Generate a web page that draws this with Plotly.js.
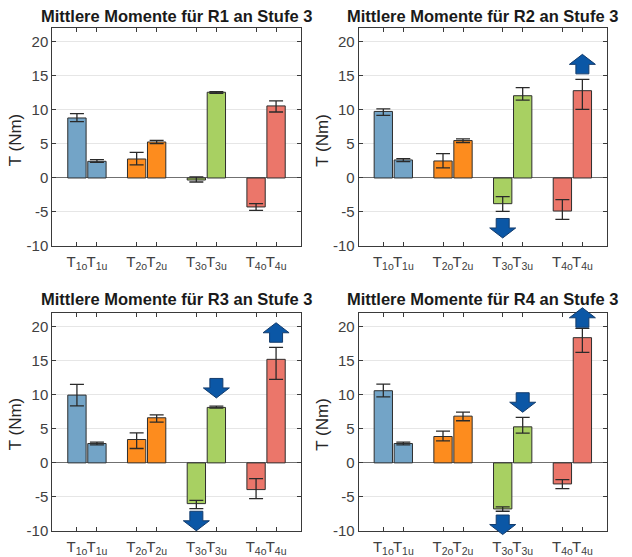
<!DOCTYPE html>
<html>
<head>
<meta charset="utf-8">
<script src="https://cdn.plot.ly/plotly-3.0.1.min.js"></script>
<style>html,body{margin:0;padding:0;background:#fff;}#chart{width:632px;height:557px;}</style>
</head>
<body>
<div id="chart"></div>
<script>
// ---- data ----
const tickLabels = ['T<sub>1o</sub>','T<sub>1u</sub>','T<sub>2o</sub>','T<sub>2u</sub>','T<sub>3o</sub>','T<sub>3u</sub>','T<sub>4o</sub>','T<sub>4u</sub>'];
const groupOf = [1,1,2,2,3,3,4,4];
const sideOf = [-1,1,-1,1,-1,1,-1,1];
const titles = ['Mittlere Momente für R1 an Stufe 3','Mittlere Momente für R2 an Stufe 3','Mittlere Momente für R3 an Stufe 3','Mittlere Momente für R4 an Stufe 3'];

const R1_mean = [8.82, 2.45, 2.79, 5.29, -0.30, 12.60, -4.26, 10.59];
const R1_hi   = [9.46, 2.70, 3.77, 5.54, 0.15, 12.70, -3.77, 11.32];
const R1_lo   = [8.28, 2.30, 1.91, 5.05, -0.59, 12.45, -4.75, 9.70];

const R2_mean = [9.78, 2.65, 2.50, 5.50, -3.78, 12.09, -4.86, 12.83];
const R2_hi   = [10.17, 2.85, 3.59, 5.75, -2.75, 13.27, -3.19, 14.50];
const R2_lo   = [9.19, 2.41, 1.47, 5.21, -4.91, 11.45, -6.09, 10.07];

const R3_mean = [9.95, 2.84, 3.43, 6.62, -5.98, 8.14, -3.92, 15.20];
const R3_hi   = [11.52, 3.04, 4.41, 7.06, -5.49, 8.33, -2.30, 16.96];
const R3_lo   = [8.38, 2.65, 2.11, 5.98, -6.72, 8.04, -5.25, 12.25];

const R4_mean = [10.59, 2.84, 3.87, 6.86, -6.76, 5.29, -3.09, 18.38];
const R4_hi   = [11.57, 3.04, 4.66, 7.45, -6.47, 6.67, -2.45, 19.75];
const R4_lo   = [9.70, 2.65, 3.24, 6.18, -7.10, 4.36, -3.77, 16.23];

// arrows: bar index, direction, centre value
const R1_arrowBar = [], R1_arrowDir = [], R1_arrowY = [];
const R2_arrowBar = [4, 7], R2_arrowDir = ['down','up'], R2_arrowY = [-7.35, 16.7];
const R3_arrowBar = [4, 5, 7], R3_arrowDir = ['down','down','up'], R3_arrowY = [-8.5, 11.0, 19.1];
const R4_arrowBar = [4, 5, 7], R4_arrowDir = ['down','down','up'], R4_arrowY = [-9.05, 8.9, 21.3];

const yTickVals = [-10, -5, 0, 5, 10, 15, 20];
const yTickText = ['-10', '-5', '0', '5', '10', '15', '20'];

// ---- style ----
const groupColors = {1:'#73a4c7', 2:'#fd8c1e', 3:'#a8d062', 4:'#eb766a'};
const barOffset = 0.1675, barWidth = 0.307;
const xRange = [0.42, 4.58], yRange = [-10, 22];
const W = 632, H = 557;
const xDomains = [[52.3/W, 300.7/W],[358.7/W, 607/W],[52.3/W, 300.7/W],[358.7/W, 607/W]];
const yDomains = [[(H-246)/H, (H-28.3)/H],[(H-246)/H, (H-28.3)/H],[(H-531)/H, (H-313)/H],[(H-531)/H, (H-313)/H]];
const titleY = [(H-16)/H, (H-16)/H, (H-299)/H, (H-299)/H];
const ylabY = [(H-140)/H, (H-140)/H, (H-424)/H, (H-424)/H];
const FONT = 'Liberation Sans, Arial, Helvetica, sans-serif';
const padPx = 16; // extra room so arrows may overhang the axes box

const series = [
  {mean:R1_mean, hi:R1_hi, lo:R1_lo, ab:R1_arrowBar, ad:R1_arrowDir, ay:R1_arrowY},
  {mean:R2_mean, hi:R2_hi, lo:R2_lo, ab:R2_arrowBar, ad:R2_arrowDir, ay:R2_arrowY},
  {mean:R3_mean, hi:R3_hi, lo:R3_lo, ab:R3_arrowBar, ad:R3_arrowDir, ay:R3_arrowY},
  {mean:R4_mean, hi:R4_hi, lo:R4_lo, ab:R4_arrowBar, ad:R4_arrowDir, ay:R4_arrowY}
];

const xPos = groupOf.map((g,i) => g + sideOf[i]*barOffset);
const barColors = groupOf.map(g => groupColors[g]);

const traces = [];
const layout = {
  width: W, height: H,
  margin: {l:0, r:0, t:0, b:0},
  paper_bgcolor: '#ffffff', plot_bgcolor: 'rgba(0,0,0,0)',
  showlegend: false,
  font: {family: FONT, size: 14, color: '#404040'},
  annotations: [], shapes: []
};

const upPath = 'M0,10 L13,0 L6.5,0 L6.5,-9.5 L-6.5,-9.5 L-6.5,0 L-13,0 Z';
const downPath = 'M0,-10 L13,0 L6.5,0 L6.5,9.5 L-6.5,9.5 L-6.5,0 L-13,0 Z';

series.forEach((s, k) => {
  const n = k + 1;
  const xa = n === 1 ? 'x' : 'x' + n;
  const ya = n === 1 ? 'y' : 'y' + n;
  traces.push({
    type: 'bar', x: xPos, y: s.mean, width: barWidth,
    xaxis: xa, yaxis: ya,
    marker: {color: barColors, line: {color: '#2e2e2e', width: 1}},
    error_y: {type: 'data', symmetric: false,
      array: s.mean.map((v,i) => s.hi[i] - v),
      arrayminus: s.mean.map((v,i) => v - s.lo[i]),
      color: '#2a2a2a', thickness: 1.3, width: 7},
    hoverinfo: 'skip'
  });
  layout['xaxis' + (n === 1 ? '' : n)] = {
    domain: xDomains[k], anchor: ya, range: xRange,
    tickmode: 'array', tickvals: xPos, ticktext: tickLabels, tickangle: 0,
    ticks: 'inside', ticklen: 4, tickcolor: '#3a3a3a', tickwidth: 1,
    ticklabelstandoff: 2,
    showline: true, linecolor: '#3a3a3a', linewidth: 1, mirror: 'ticks',
    showgrid: false, zeroline: false, fixedrange: true,
    tickfont: {family: FONT, size: 15, color: '#404040'}
  };
  layout['yaxis' + (n === 1 ? '' : n)] = {
    domain: yDomains[k], anchor: xa, range: yRange,
    tickmode: 'array', tickvals: yTickVals, ticktext: yTickText,
    ticks: 'inside', ticklen: 4, tickcolor: '#3a3a3a', tickwidth: 1,
    showline: true, linecolor: '#3a3a3a', linewidth: 1, mirror: 'ticks',
    showgrid: true, gridcolor: '#e6e6e6', gridwidth: 1,
    zeroline: true, zerolinecolor: '#707070', zerolinewidth: 1,
    fixedrange: true,
    tickfont: {family: FONT, size: 15, color: '#404040'}
  };
  layout.annotations.push({
    text: '<b>' + titles[k] + '</b>', xref: xa + ' domain', x: 0.5, yref: 'paper', y: titleY[k],
    xanchor: 'center', yanchor: 'middle', showarrow: false,
    font: {family: FONT, size: 16.5, color: '#1a1a1a'}
  });
  layout.annotations.push({
    text: 'T (Nm)', xref: 'paper', x: (xDomains[k][0]*W - 37)/W, yref: 'paper', y: ylabY[k],
    xanchor: 'center', yanchor: 'middle', textangle: -90, showarrow: false,
    font: {family: FONT, size: 17, color: '#262626'}
  });

  // invisible overlay subplot, slightly larger than the axes box, for the arrows
  if (s.ab.length) {
    const m = n + 4;
    const d = yDomains[k];
    const pxPerUnit = (d[1] - d[0]) * H / (yRange[1] - yRange[0]);
    const padU = padPx / pxPerUnit;
    layout['xaxis' + m] = {domain: xDomains[k], range: xRange, anchor: 'y' + m, visible: false, fixedrange: true};
    layout['yaxis' + m] = {domain: [d[0] - padPx/H, d[1] + padPx/H], range: [yRange[0] - padU, yRange[1] + padU],
                           anchor: 'x' + m, visible: false, fixedrange: true};
    traces.push({type: 'scatter', mode: 'markers', x: [xPos[0]], y: [0], marker: {opacity: 0},
                 xaxis: 'x' + m, yaxis: 'y' + m, hoverinfo: 'skip'});
    s.ab.forEach((b, j) => {
      layout.shapes.push({
        type: 'path', xref: 'x' + m, yref: 'y' + m,
        xsizemode: 'pixel', ysizemode: 'pixel',
        xanchor: xPos[b], yanchor: s.ay[j],
        path: s.ad[j] === 'up' ? upPath : downPath,
        fillcolor: '#0b57a6', line: {color: '#143c6c', width: 1},
        layer: 'above'
      });
    });
  }
});

Plotly.newPlot('chart', traces, layout, {displayModeBar: false, staticPlot: true});
</script>
</body>
</html>
